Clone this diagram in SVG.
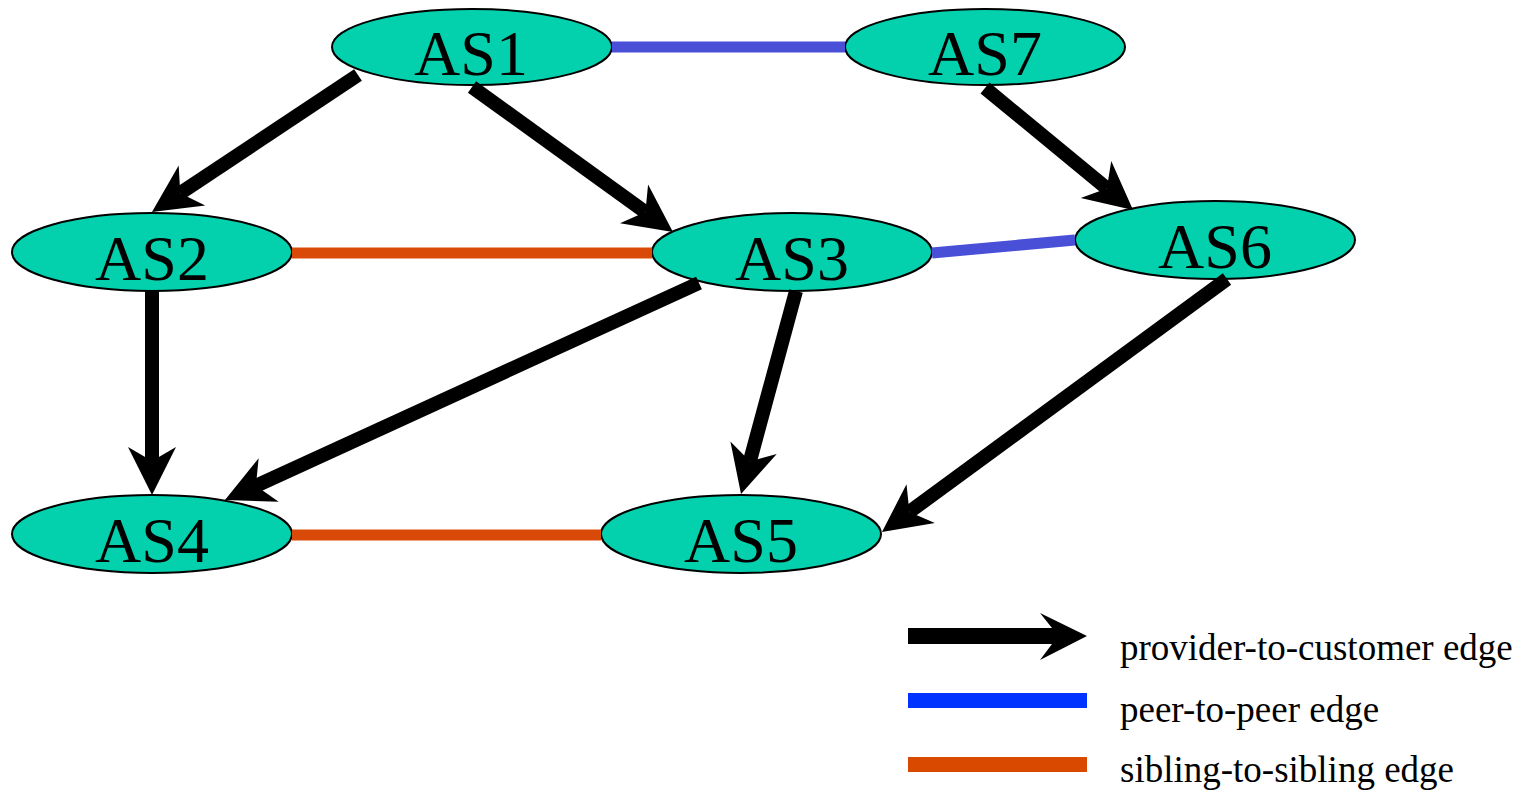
<svg xmlns="http://www.w3.org/2000/svg" width="1526" height="791" viewBox="0 0 1526 791">
<style>
.node ellipse{fill:#03d1ae;stroke:#000;stroke-width:2}
.node text{font-family:"Liberation Serif",serif;font-size:64px;fill:#000;text-anchor:middle}
.pc{stroke:#000;stroke-width:14;fill:none;marker-end:url(#ah)}
.peer{stroke:#4a4fd8;stroke-width:11}
.sib{stroke:#d94a08;stroke-width:11}
.leg{font-family:"Liberation Serif",serif;font-size:37px;fill:#000}
</style>
<defs>
<marker id="ah" markerUnits="userSpaceOnUse" orient="auto" refX="0" refY="0" markerWidth="1" markerHeight="1" overflow="visible">
<path d="M34,0 L-14,-24 L0,0 L-14,24 Z" fill="#000"/>
</marker>
</defs>
<g id="nodes">
<g id="AS1" class="node"><ellipse cx="472" cy="47" rx="140" ry="38"/><text x="471" y="75">AS1</text></g>
<g id="AS7" class="node"><ellipse cx="985" cy="47" rx="140" ry="38"/><text x="985" y="75">AS7</text></g>
<g id="AS2" class="node"><ellipse cx="152" cy="252" rx="140" ry="39"/><text x="152" y="280">AS2</text></g>
<g id="AS3" class="node"><ellipse cx="792" cy="252" rx="140" ry="39"/><text x="792" y="280">AS3</text></g>
<g id="AS6" class="node"><ellipse cx="1215" cy="240" rx="140" ry="39"/><text x="1215" y="268">AS6</text></g>
<g id="AS4" class="node"><ellipse cx="152" cy="534" rx="140" ry="39"/><text x="152" y="562">AS4</text></g>
<g id="AS5" class="node"><ellipse cx="741" cy="534" rx="140" ry="39"/><text x="741" y="562">AS5</text></g>
</g>
<g id="connectors">
<line class="peer" x1="612" y1="47" x2="845" y2="47"/>
<line class="peer" x1="932" y1="253" x2="1075" y2="240"/>
<line class="sib" x1="292" y1="253" x2="652" y2="253"/>
<line class="sib" x1="292" y1="535" x2="601" y2="535"/>
<line class="pc" x1="358" y1="75" x2="180.3" y2="193.2"/>
<line class="pc" x1="472" y1="87" x2="645.4" y2="212.1"/>
<line class="pc" x1="985" y1="88" x2="1106.8" y2="188.4"/>
<line class="pc" x1="152" y1="291" x2="152" y2="461"/>
<line class="pc" x1="699" y1="283" x2="255.9" y2="485.8"/>
<line class="pc" x1="796" y1="291" x2="749.9" y2="461.2"/>
<line class="pc" x1="1227" y1="279" x2="909.4" y2="511.9"/>
</g>
<g id="legend">
<path d="M908,628 L1052,628 L1040,613 L1087,636 L1040,660 L1052,644 L908,644 Z" fill="#000"/>
<rect x="908" y="693" width="179" height="15" fill="#0033ff"/>
<rect x="908" y="757" width="179" height="15" fill="#d94a00"/>
<text class="leg" x="1120" y="660">provider-to-customer edge</text>
<text class="leg" x="1120" y="722">peer-to-peer edge</text>
<text class="leg" x="1120" y="782">sibling-to-sibling edge</text>
</g>
</svg>
